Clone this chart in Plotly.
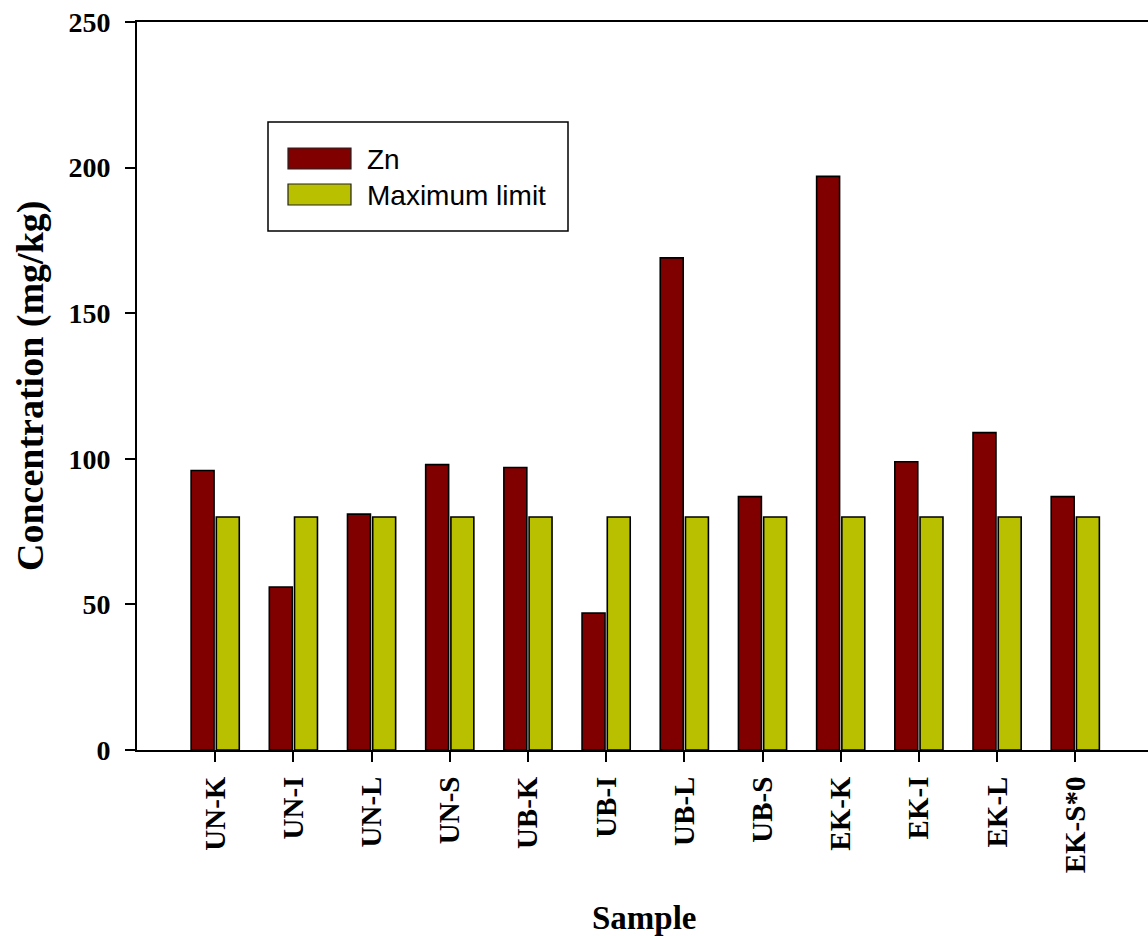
import plotly.graph_objects as go

# Sample sites and measured zinc concentrations (mg/kg)
samples = ["UN-K", "UN-I", "UN-L", "UN-S", "UB-K", "UB-I",
           "UB-L", "UB-S", "EK-K", "EK-I", "EK-L", "EK-S*0"]
zn_values = [96, 56, 81, 98, 97, 47, 169, 87, 197, 99, 109, 87]
max_limit = [80, 80, 80, 80, 80, 80, 80, 80, 80, 80, 80, 80]
y_ticks = [0, 50, 100, 150, 200, 250]

ZN_COLOR = "#800000"
LIMIT_COLOR = "#B8C000"
SERIF = "Liberation Serif, Times New Roman, serif"
SANS = "Liberation Sans, Arial, sans-serif"

W, H = 1148, 936
M_L, M_R, M_T, M_B = 137, 0, 22, 186
PW, PH = W - M_L - M_R, H - M_T - M_B


def px(x):
    return (x - M_L) / PW


def py(y):
    return (H - M_B - y) / PH


fig = go.Figure()
fig.add_trace(go.Bar(x=list(range(len(samples))), y=zn_values, name="Zn",
                     marker=dict(color=ZN_COLOR, line=dict(color="black", width=1.6)),
                     showlegend=False))
fig.add_trace(go.Bar(x=list(range(len(samples))), y=max_limit, name="Maximum limit",
                     marker=dict(color=LIMIT_COLOR, line=dict(color="black", width=1.6)),
                     showlegend=False))

# Boxed legend with wide swatches
shapes = [
    dict(type="rect", xref="paper", yref="paper",
         x0=px(268), x1=px(568), y0=py(231), y1=py(122),
         line=dict(color="black", width=1.5), fillcolor="white", layer="above"),
    dict(type="rect", xref="paper", yref="paper",
         x0=px(288), x1=px(351), y0=py(169), y1=py(148),
         line=dict(color="#222", width=1.2), fillcolor=ZN_COLOR, layer="above"),
    dict(type="rect", xref="paper", yref="paper",
         x0=px(288), x1=px(351), y0=py(205), y1=py(184),
         line=dict(color="#222", width=1.2), fillcolor=LIMIT_COLOR, layer="above"),
]
annotations = [
    dict(text="Zn", xref="paper", yref="paper", x=px(365), y=py(159),
         xanchor="left", yanchor="middle", showarrow=False,
         font=dict(family=SANS, size=28, color="black")),
    dict(text="Maximum limit", xref="paper", yref="paper", x=px(365), y=py(195),
         xanchor="left", yanchor="middle", showarrow=False,
         font=dict(family=SANS, size=28, color="black")),
    dict(text="<b>Sample</b>", xref="paper", yref="paper", x=px(644), y=py(918),
         xanchor="center", yanchor="middle", showarrow=False,
         font=dict(family=SERIF, size=33, color="black")),
    dict(text="<b>Concentration (mg/kg)</b>", xref="paper", yref="paper",
         x=px(30), y=py(386), xanchor="center", yanchor="middle",
         textangle=-90, showarrow=False,
         font=dict(family=SERIF, size=38, color="black")),
]

fig.update_layout(
    width=W, height=H,
    margin=dict(l=M_L, r=M_R, t=M_T, b=M_B, pad=0),
    paper_bgcolor="white", plot_bgcolor="white",
    barmode="group", bargap=0.355, bargroupgap=0.09,
    shapes=shapes, annotations=annotations,
    xaxis=dict(range=[-1, 11.93], tickmode="array",
               tickvals=list(range(len(samples))),
               ticktext=[f"<b>{s}</b>" for s in samples],
               tickangle=-90, ticks="outside", ticklen=10, tickwidth=1.5,
               tickcolor="black", showline=True, linecolor="black", linewidth=2,
               mirror=True, showgrid=False, zeroline=False,
               ticklabelstandoff=3,
               tickfont=dict(family=SERIF, size=29, color="black")),
    yaxis=dict(range=[0, 250], tickmode="array", tickvals=y_ticks,
               ticktext=[f"<b>{v}</b>" for v in y_ticks],
               ticks="outside", ticklen=10, tickwidth=1.5, tickcolor="black",
               showline=True, linecolor="black", linewidth=2,
               showgrid=False, zeroline=False, ticklabelstandoff=9,
               tickfont=dict(family=SERIF, size=28, color="black")),
)

fig.write_html("out.html")
